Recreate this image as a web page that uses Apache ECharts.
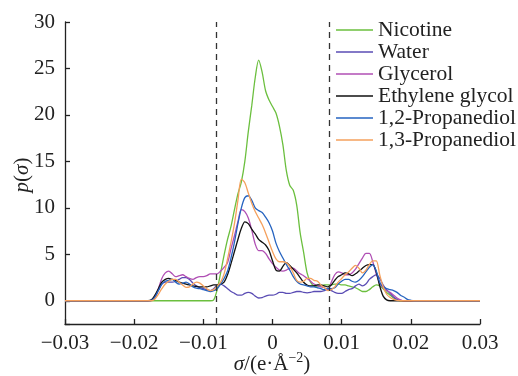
<!DOCTYPE html>
<html>
	<head>
		<meta charset="utf-8">
		<title>sigma profile</title>
		<script src="https://cdn.jsdelivr.net/npm/echarts@6/dist/echarts.min.js"></script>
		<style>
			* {
				margin: 0;
				padding: 0;
			}
			body {
				background: #fff;
			}
		</style>
	</head>
	<body>
		<div id="main" style="width:518px;height:376px;"></div>
		<script>
			// sigma grid (e/A^2)
			let sigma = [-0.03,
				-0.018, -0.0175, -0.017, -0.0165, -0.016, -0.0155, -0.015, -0.0145, -0.014, -0.0135,
				-0.013, -0.0125, -0.012, -0.0115, -0.011, -0.0105, -0.01, -0.0095, -0.009, -0.0085,
				-0.008, -0.0075, -0.007, -0.0065, -0.006, -0.0055, -0.005, -0.0045, -0.004, -0.0035,
				-0.003, -0.0025, -0.002, -0.0015, -0.001, -0.0005, 0, 0.0005, 0.001, 0.0015,
				0.002, 0.0025, 0.003, 0.0035, 0.004, 0.0045, 0.005, 0.0055, 0.006, 0.0065,
				0.007, 0.0075, 0.008, 0.0085, 0.009, 0.0095, 0.01, 0.0105, 0.011, 0.0115,
				0.012, 0.0125, 0.013, 0.0135, 0.014, 0.0145, 0.015, 0.0155, 0.016, 0.0165,
				0.017, 0.0175, 0.018, 0.0185, 0.019, 0.0195, 0.02, 0.0205, 0.021,
				0.03];

			let nicotine = [0,
				0, 0, 0, 0, 0, 0, 0, 0, 0, 0,
				0, 0, 0, 0, 0, 0, 0, 0, 0, 0.1,
				1.2, 3.0, 4.9, 6.6, 8.0, 9.8, 11.5, 12.8, 15.0, 18.2,
				21.0, 24.0, 25.9, 24.6, 22.6, 21.6, 20.9, 20.2, 18.8, 16.8,
				14.0, 12.4, 11.9, 10.3, 7.3, 5.2, 3.0, 2.0, 1.6, 1.5,
				1.6, 1.7, 1.7, 1.7, 1.8, 1.8, 1.7, 1.7, 1.6, 1.5,
				1.4, 1.2, 1.0, 1.0, 1.2, 1.5, 1.7, 1.6, 1.3, 0.9,
				0.6, 0.3, 0.1, 0, 0, 0, 0, 0, 0,
				0];
			let water = [0,
				0, 0.05, 0.4, 1.1, 1.8, 2.0, 2.0, 2.0, 2.1, 2.3,
				2.5, 2.5, 2.3, 1.9, 1.6, 1.4, 1.3, 1.2, 1.1, 1.3,
				1.7, 1.8, 1.6, 1.3, 1.0, 0.8, 0.6, 0.6, 0.8, 0.9,
				0.8, 0.5, 0.3, 0.35, 0.5, 0.6, 0.6, 0.7, 0.9, 0.9,
				0.8, 0.8, 0.9, 1.0, 1.0, 0.9, 0.85, 0.9, 1.0, 1.0,
				1.0, 1.1, 1.2, 1.1, 0.9, 0.8, 0.8, 1.0, 1.2, 1.3,
				1.6, 1.8, 1.6, 1.8, 2.3, 2.6, 2.8, 2.4, 1.7, 1.2,
				0.8, 0.4, 0.15, 0.05, 0, 0, 0, 0, 0,
				0];
			let glycerol = [0,
				0, 0.05, 0.4, 1.3, 2.4, 3.0, 3.2, 2.9, 2.6, 2.7,
				2.8, 2.6, 2.4, 2.3, 2.5, 2.6, 2.6, 2.7, 2.9, 2.9,
				2.9, 3.2, 3.6, 4.1, 5.6, 7.0, 8.5, 9.8, 9.6, 8.9,
				7.6, 6.1, 5.4, 5.4, 5.1, 4.5, 4.0, 3.6, 3.3, 3.2,
				3.3, 3.5, 3.5, 3.2, 2.9, 2.7, 2.4, 2.1, 1.8, 1.6,
				1.5, 1.4, 1.2, 2.0, 2.8, 3.1, 3.0, 2.8, 2.8, 3.0,
				3.4, 4.0, 4.6, 5.1, 5.1, 4.2, 2.9, 1.9, 1.4, 1.1,
				0.9, 0.6, 0.3, 0.1, 0, 0, 0, 0, 0,
				0];
			let ethyleneGlycol = [0,
				0, 0.1, 0.6, 1.3, 2.0, 2.3, 2.4, 2.3, 2.2, 2.0,
				1.9, 1.8, 1.7, 1.6, 1.55, 1.5, 1.5, 1.5, 1.6, 1.7,
				1.7, 1.8, 2.0, 2.8, 4.0, 5.3, 6.6, 7.8, 8.5, 8.3,
				7.7, 7.2, 6.6, 6.3, 6.0, 5.4, 4.3, 3.3, 3.2, 3.7,
				4.1, 3.8, 3.4, 3.0, 2.5, 2.0, 1.7, 1.6, 1.6, 1.7,
				1.7, 1.6, 1.5, 1.7, 2.2, 2.6, 2.8, 3.0, 2.9, 2.7,
				2.9, 3.2, 3.5, 3.8, 3.9, 3.9, 3.1, 1.6, 0.5, 0.1,
				0, 0, 0, 0, 0, 0, 0, 0, 0,
				0];
			let propanediol12 = [0,
				0, 0.05, 0.4, 1.1, 1.8, 2.1, 2.2, 2.3, 2.0, 1.8,
				1.9, 2.0, 1.8, 1.5, 1.35, 1.3, 1.2, 1.1, 1.0, 1.1,
				1.3, 1.8, 2.4, 3.2, 4.6, 6.3, 8.3, 10.0, 11.1, 11.3,
				10.8, 10.0, 9.7, 9.5, 9.0, 8.4, 7.5, 6.2, 5.3, 4.6,
				3.9, 3.3, 2.6, 2.1, 1.8, 1.7, 1.6, 1.5, 1.5, 1.4,
				1.3, 1.2, 1.3, 1.3, 1.4, 1.8, 2.1, 2.3, 2.3, 2.1,
				2.0, 2.2, 2.6, 3.1, 3.6, 3.9, 3.2, 2.0, 1.5, 1.3,
				1.2, 1.1, 0.9, 0.6, 0.4, 0.15, 0.05, 0, 0,
				0];
			let propanediol13 = [0,
				0, 0, 0.2, 0.7, 1.3, 1.8, 2.1, 2.3, 2.3, 2.0,
				1.7, 1.45, 1.5, 1.8, 2.0, 1.9, 1.6, 1.3, 1.1, 1.2,
				1.6, 2.0, 2.9, 4.5, 6.3, 8.3, 10.8, 13.1, 12.7, 11.6,
				10.5, 9.6, 8.9, 8.2, 7.3, 6.3, 5.3, 4.5, 4.2, 4.2,
				4.1, 3.7, 3.0, 2.2, 2.0, 2.1, 2.4, 2.4, 2.2, 2.1,
				1.7, 1.4, 1.1, 1.2, 1.5, 2.0, 2.4, 2.8, 3.1, 3.5,
				3.8, 3.5, 3.0, 3.3, 3.9, 4.3, 4.3, 2.8, 1.5, 0.7,
				0.35, 0.15, 0.05, 0, 0, 0, 0, 0, 0,
				0];

			let seriesNames = ['Nicotine', 'Water', 'Glycerol', 'Ethylene glycol', '1,2-Propanediol', '1,3-Propanediol'];
			let seriesData = [nicotine, water, glycerol, ethyleneGlycol, propanediol12, propanediol13];
			let myColor = ['#6bbf3e', '#5a4cb4', '#b04fb4', '#111111', '#2563c0', '#f5a05c'];
			let dashX = [-0.0082, 0.0082];
			let yRange = [-2.5, 30];

			let font = 'Liberation Serif';
			let myChart = echarts.init(document.getElementById('main'));

			let series = seriesData.map((vals, k) => {
				let s = {
					name: seriesNames[k],
					type: 'line',
					symbol: 'none',
					smooth: 0.3,
					color: myColor[k],
					lineStyle: {
						color: myColor[k],
						width: 1.3
					},
					data: vals.map((v, i) => [sigma[i], v])
				};
				if (k == 0) {
					// 两条虚线
					s.markLine = {
						silent: true,
						symbol: ['none', 'none'],
						label: { show: false },
						lineStyle: {
							color: '#333',
							type: [6, 5],
							width: 1.3
						},
						data: dashX.map(x => [{ coord: [x, yRange[0]] }, { coord: [x, yRange[1]] }])
					};
				}
				return s;
			});

			let option = {
				backgroundColor: '#fff',
				animation: false,
				grid: {
					left: 65,
					right: 38,
					top: 22,
					bottom: 52
				},
				legend: {
					orient: 'vertical',
					left: 336,
					top: 19,
					padding: 0,
					icon: 'rect',
					itemWidth: 37,
					itemHeight: 1.6,
					itemGap: 0,
					textStyle: {
						fontFamily: font,
						fontSize: 21.5,
						lineHeight: 21.4,
						color: '#222'
					},
					data: seriesNames
				},
				xAxis: {
					type: 'value',
					min: -0.03,
					max: 0.03,
					interval: 0.01,
					splitLine: { show: false },
					axisLine: {
						onZero: false,
						lineStyle: { color: '#222', width: 1.3 }
					},
					axisTick: {
						inside: true,
						length: 5,
						lineStyle: { color: '#222', width: 1.3 }
					},
					axisLabel: {
						margin: 9,
						fontFamily: font,
						fontSize: 21,
						color: '#222',
						formatter: function(v) {
							if (Math.abs(v) < 1e-9) return '0';
							return (v < 0 ? '\u2212' : '') + Math.abs(v).toFixed(2);
						}
					}
				},
				yAxis: {
					type: 'value',
					min: yRange[0],
					max: yRange[1],
					splitNumber: 6,
					splitLine: { show: false },
					axisLine: {
						show: true,
						onZero: false,
						lineStyle: { color: '#222', width: 1.3 }
					},
					axisTick: {
						inside: true,
						length: 5,
						lineStyle: { color: '#222', width: 1.3 }
					},
					axisLabel: {
						margin: 10,
						fontFamily: font,
						fontSize: 21,
						color: '#222',
						formatter: function(v) {
							return v % 5 === 0 ? String(v) : '';
						}
					}
				},
				graphic: [{
						type: 'text',
						x: 272,
						y: 364,
						style: {
							text: '{i|σ}/(e·Å{s|−2})',
							textAlign: 'center',
							textVerticalAlign: 'middle',
							fontFamily: font,
							fontSize: 21,
							fill: '#222',
							rich: {
								i: { fontStyle: 'italic', fontFamily: font, fontSize: 21, lineHeight: 26 },
								s: { fontFamily: font, fontSize: 14, verticalAlign: 'top', lineHeight: 14 }
							}
						}
					},
					{
						type: 'text',
						x: 22,
						y: 175,
						rotation: Math.PI / 2,
						style: {
							text: '{i|p}({i|σ})',
							textAlign: 'center',
							textVerticalAlign: 'middle',
							fontFamily: font,
							fontSize: 21,
							fill: '#222',
							rich: {
								i: { fontStyle: 'italic', fontFamily: font, fontSize: 21 }
							}
						}
					}
				],
				series: series
			};
			myChart.setOption(option);
		</script>
	</body>
</html>
